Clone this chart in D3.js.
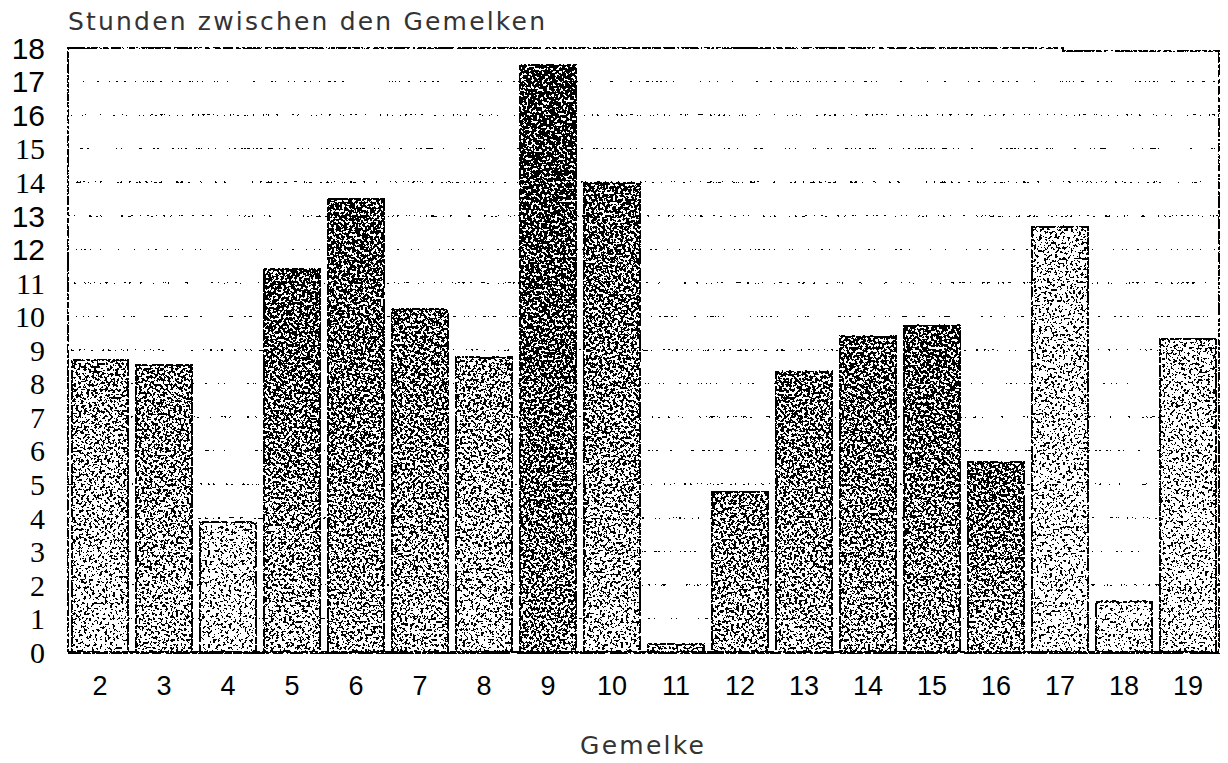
<!DOCTYPE html>
<html>
<head>
<meta charset="utf-8">
<script src="https://cdn.jsdelivr.net/npm/d3@7"></script>
<style>
  html, body { margin: 0; padding: 0; background: #fff; }
  svg { display: block; }
</style>
</head>
<body>
<svg id="chart" width="1228" height="763"></svg>
<script>
// Melking numbers on the x axis, hours between milkings on the y axis
const milkings = ["2","3","4","5","6","7","8","9","10","11","12","13","14","15","16","17","18","19"];
const hours = [8.70, 8.55, 3.87, 11.40, 13.50, 10.21, 8.78, 17.49, 13.97, 0.23, 4.77, 8.35, 9.40, 9.72, 5.66, 12.67, 1.50, 9.33];
const yTicks = [0,1,2,3,4,5,6,7,8,9,10,11,12,13,14,15,16,17,18];
const titleText = "Stunden zwischen den Gemelken";
const xTitleText = "Gemelke";

// Fill tone per bar (grey lightness at the top and at the foot of each bar)
const toneTop    = [0.55, 0.47, 0.72, 0.30, 0.30, 0.40, 0.52, 0.20, 0.34, 0.62, 0.48, 0.40, 0.36, 0.32, 0.36, 0.70, 0.80, 0.70];
const toneBottom = [0.78, 0.68, 0.78, 0.66, 0.62, 0.64, 0.70, 0.50, 0.70, 0.62, 0.62, 0.64, 0.60, 0.58, 0.62, 0.78, 0.80, 0.78];
// Tick labels set in the sans face; the rest use the serif face
const sansTicks = new Set([12, 13, 16, 17, 18]);

const svg = d3.select("#chart");
const plotLeft = 68, plotRight = 1220, plotTop = 48, plotBottom = 652;

const x = d3.scaleBand().domain(milkings).range([plotLeft, plotRight]).paddingInner(0.125).paddingOuter(0.0625);
const y = d3.scaleLinear().domain([0, 18]).range([plotBottom, plotTop]);

const defs = svg.append("defs");
const grey = v => { const c = Math.round(v * 255); return `rgb(${c},${c},${c})`; };

milkings.forEach((m, i) => {
  const g = defs.append("linearGradient").attr("id", "fill-" + m)
    .attr("x1", 0).attr("y1", 0).attr("x2", 0).attr("y2", 1);
  g.append("stop").attr("offset", "0%").attr("stop-color", grey(toneTop[i]));
  g.append("stop").attr("offset", "45%").attr("stop-color", grey(toneTop[i] * 0.6 + toneBottom[i] * 0.4));
  g.append("stop").attr("offset", "100%").attr("stop-color", grey(toneBottom[i]));
});

// One-bit screen: every grey becomes a scatter of black and white dots
const f = defs.append("filter").attr("id", "screen")
  .attr("filterUnits", "userSpaceOnUse")
  .attr("x", 0).attr("y", 0).attr("width", 1228).attr("height", 763)
  .attr("color-interpolation-filters", "sRGB");
f.append("feTurbulence").attr("type", "fractalNoise").attr("baseFrequency", 0.38)
  .attr("numOctaves", 2).attr("seed", 7).attr("result", "noise");
f.append("feColorMatrix").attr("in", "noise").attr("type", "matrix")
  .attr("values", "1 0 0 0 0  1 0 0 0 0  1 0 0 0 0  0 0 0 0 1").attr("result", "ng");
const st = f.append("feComponentTransfer").attr("in", "ng").attr("result", "ns");
["feFuncR", "feFuncG", "feFuncB"].forEach(c => st.append(c).attr("type", "linear").attr("slope", 3.2).attr("intercept", -1.1));
f.append("feComposite").attr("in", "SourceGraphic").attr("in2", "ns").attr("operator", "arithmetic")
  .attr("k1", 0).attr("k2", 1).attr("k3", -1).attr("k4", 1).attr("result", "diff");
const th = f.append("feComponentTransfer").attr("in", "diff");
const table = d3.range(20).map(i => i < 19 ? 0 : 1).join(" ");
["feFuncR", "feFuncG", "feFuncB"].forEach(c => th.append(c).attr("type", "discrete").attr("tableValues", table));

const plot = svg.append("g").attr("filter", "url(#screen)");
plot.append("rect").attr("x", 0).attr("y", 0).attr("width", 1228).attr("height", 763).attr("fill", "#fff");

// Horizontal grid lines
plot.append("g").selectAll("line").data(yTicks.filter(t => t > 0 && t < 18)).join("line")
  .attr("x1", plotLeft).attr("x2", plotRight)
  .attr("y1", d => y(d)).attr("y2", d => y(d))
  .attr("stroke", "#d0d0d0").attr("stroke-width", 1.4);

// Bars
plot.append("g").selectAll("rect").data(milkings).join("rect")
  .attr("x", d => x(d))
  .attr("y", (d, i) => y(hours[i]))
  .attr("width", x.bandwidth())
  .attr("height", (d, i) => y(0) - y(hours[i]))
  .attr("fill", d => `url(#fill-${d})`)
  .attr("stroke", "#000").attr("stroke-width", 1.8);

// Frame
const frame = d3.path();
frame.moveTo(plotLeft, plotBottom); frame.lineTo(plotLeft, plotTop); frame.lineTo(1063, plotTop);
frame.lineTo(1063, plotTop + 3); frame.lineTo(plotRight - 1, plotTop + 3); frame.lineTo(plotRight - 1, plotBottom);
plot.append("path").attr("d", frame.toString()).attr("fill", "none").attr("stroke", "#303030").attr("stroke-width", 2);

// x axis baseline
plot.append("line").attr("x1", plotLeft).attr("x2", plotRight).attr("y1", plotBottom + 0.5).attr("y2", plotBottom + 0.5)
  .attr("stroke", "#000").attr("stroke-width", 3);

// y tick labels
svg.append("g").selectAll("text").data(yTicks).join("text")
  .attr("x", 45).attr("y", d => y(d)).attr("dy", "0.36em")
  .attr("text-anchor", "end")
  .attr("font-family", d => sansTicks.has(d) ? "'Liberation Sans', Arial, sans-serif" : "'Liberation Serif', 'Times New Roman', serif")
  .attr("font-size", 30).attr("fill", "#000")
  .text(d => d);

// x tick labels
const xAxis = d3.axisBottom(x).tickSize(0).tickPadding(0);
const xg = svg.append("g").attr("transform", `translate(0,${plotBottom})`).call(xAxis);
xg.select(".domain").remove();
xg.selectAll("text").attr("y", 43).attr("dy", 0)
  .attr("font-family", "'Liberation Sans', Arial, sans-serif").attr("font-size", 27).attr("fill", "#000");

// Titles
svg.append("text").attr("x", 68).attr("y", 30)
  .attr("font-family", "'DejaVu Sans', sans-serif").attr("font-size", 25)
  .attr("textLength", 477).attr("lengthAdjust", "spacing")
  .attr("fill", "#333").text(titleText);

svg.append("text").attr("x", 580).attr("y", 754)
  .attr("font-family", "'DejaVu Sans', sans-serif").attr("font-size", 25)
  .attr("textLength", 124).attr("lengthAdjust", "spacing")
  .attr("fill", "#333").text(xTitleText);
</script>
</body>
</html>
